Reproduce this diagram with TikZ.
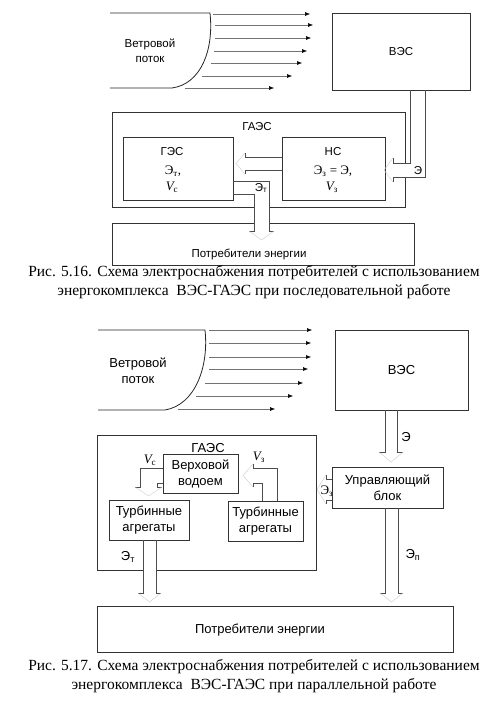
\documentclass[tikz,border=0pt]{standalone}
\usepackage{fontspec}
\setmainfont{Liberation Serif}
\setsansfont{Liberation Sans}
\usetikzlibrary{arrows.meta}

\begin{document}
\begin{tikzpicture}[x=1pt,y=-1pt,
  blk/.style={draw=black!80,line width=0.75pt,rectangle,inner sep=1pt,align=center,
    font=\sffamily\fontsize{11.5}{15}\selectfont},
  blkb/.style={blk,font=\sffamily\fontsize{13}{16}\selectfont},
  lbl/.style={inner sep=0pt,font=\sffamily\fontsize{11.5}{15}\selectfont},
  lblb/.style={inner sep=0pt,font=\sffamily\fontsize{13}{16}\selectfont},
  sym/.style={inner sep=0pt,font=\rmfamily\fontsize{13}{15}\selectfont},
  edge/.style={draw=black!85,line width=0.8pt},
  wind/.style={draw=black!55,line width=0.5pt,-{Latex[length=5pt,width=4pt,color=black]}},
  pipe/.style={draw=black!70,line width=0.55pt},
  mask/.style={fill=white,draw=none},
  tip/.style={draw=black!20,line width=0.4pt},
  capt/.style={inner sep=0pt,align=center,font=\rmfamily\fontsize{15.5}{19}\selectfont}]
  \path[fill=white,use as bounding box] (0,0) rectangle (499,701);

  % --- Fig. 5.16 ---
  \draw[edge] (110,13) -- (210,13) .. controls (214,50) and (201,84) .. (172,88) -- (110,88);
  \node[lbl,align=center] (wind1) at (150,51) {Ветровой\\поток};
  \foreach \s/\e/\y [count=\i] in {213/310/14,215/313/25,215/311/38,214/307/51,211/302/63,202/292/76,185/274/88} {
    \coordinate (wa\i) at (\s,\y);
    \coordinate (wb\i) at (\e,\y);
    \draw[wind] (wa\i) -- (wb\i);
  }
  \node[blk,minimum width=138pt,minimum height=77pt] (ves1) at (401,51.5) {ВЭС};
  \node[blk,minimum width=293pt,minimum height=95pt] (gaes1) at (258.5,159.5) {};
  \node[lbl] (gaes1t) at (257,127) {ГАЭС};
  \node[blk,minimum width=110pt,minimum height=63pt] (ges) at (178,168.5) {};
  \node[lbl] (gest) at (172,152) {ГЭС};
  \node[sym] (gesa) at (173,171) {Э\textsubscript{т},};
  \node[sym] (gesb) at (172,187) {\itshape V\textsubscript{\upshape с}};
  \node[blk,minimum width=103pt,minimum height=63pt] (ns) at (333.5,168.5) {};
  \node[lbl] (nst) at (333,152) {НС};
  \node[sym] (nsa) at (333,171) {Э\textsubscript{з} = Э,};
  \node[sym] (nsb) at (332,187) {\itshape V\textsubscript{\upshape з}};
  \node[blk,minimum width=302pt,minimum height=42pt] (cons1) at (263,244) {};
  \node[lbl] (cons1t) at (249,254) {Потребители энергии};

  % pipe NS -> GES
  \path[mask] (ns.west |- 0,157) rectangle (245,170);
  \draw[pipe] (ns.west |- 0,157) -- (245,157) -- (245,153);
  \draw[pipe] (ns.west |- 0,170) -- (245,170) -- (245,174);
  \draw[tip] (245,153) -- (236,163.5) -- (245,174);
  % pipe GES -> consumers
  \path[mask] (234,181) -- (269,181) -- (269,231) -- (254,231) -- (254,194) -- (234,194) -- cycle;
  \draw[pipe] (ges.east |- 0,181) -- (269,181) -- (269,231) -- (274,231);
  \draw[pipe] (ges.east |- 0,194) -- (254,194) -- (254,231) -- (249,231);
  \draw[tip] (249,231) -- (261.5,240) -- (274,231);
  \node[lbl] (et1) at (261,188) {Э\textsubscript{т}};
  % pipe VES -> GAES
  \path[mask] (410,91) -- (410,163) -- (393,163) -- (393,177) -- (425,177) -- (425,91) -- cycle;
  \draw[pipe] (410,0 |- ves1.south) -- (410,163) -- (393,163) -- (393,158);
  \draw[pipe] (425,0 |- ves1.south) -- (425,177) -- (393,177) -- (393,182);
  \draw[tip] (393,158) -- (384,170) -- (393,182);
  \node[lbl] (e1) at (418,171) {Э};

  \node[capt] (cap1) at (254,282.5) {Рис. 5.16. Схема электроснабжения потребителей с использованием\\
    энергокомплекса\ \ ВЭС-ГАЭС при последовательной работе};

  % --- Fig. 5.17 ---
  \draw[edge] (98,330) -- (205,330) .. controls (209,367) and (195,405) .. (165,410) -- (98,410);
  \node[lblb,align=center] (wind2) at (138,371) {Ветровой\\поток};
  \foreach \s/\e/\y [count=\i] in {209/312/330,209/311/343,209/311/357,209/308/369,205/303/383,196/293/396,178/275/409} {
    \coordinate (wc\i) at (\s,\y);
    \coordinate (wd\i) at (\e,\y);
    \draw[wind] (wc\i) -- (wd\i);
  }
  \node[blkb,minimum width=133pt,minimum height=80pt] (ves2) at (401.5,370) {ВЭС};
  \node[blkb,minimum width=219pt,minimum height=135pt] (gaes2) at (206.5,502.5) {};
  \node[lblb] (gaes2t) at (208,448) {ГАЭС};
  \node[blkb,minimum width=75pt,minimum height=39pt] (res) at (200.5,473.5) {Верховой\\водоем};
  \node[blkb,minimum width=80pt,minimum height=40pt] (turbl) at (149,520) {Турбинные\\агрегаты};
  \node[blkb,minimum width=75pt,minimum height=40pt] (turbr) at (265.5,521) {Турбинные\\агрегаты};
  \node[blkb,minimum width=111pt,minimum height=41pt] (ctrl) at (387.5,487.5) {Управляющий\\блок};
  \node[blkb,minimum width=356pt,minimum height=46pt] (cons2) at (275,629.5) {};
  \node[lblb] (cons2t) at (260,630) {Потребители энергии};

  % reservoir -> left turbines
  \draw[pipe] (res.west |- 0,468) -- (140,468) -- (140,487) -- (135,487);
  \draw[pipe] (res.west |- 0,483) -- (157,483) -- (157,487) -- (162,487);
  \draw[tip] (135,487) -- (148.5,496) -- (162,487);
  \node[sym] (vc) at (150,460) {\itshape V\textsubscript{\upshape с}};
  % right turbines -> reservoir
  \draw[pipe] (277,0 |- turbr.north) -- (277,468) -- (253,468) -- (253,464);
  \draw[pipe] (262,0 |- turbr.north) -- (262,483) -- (253,483) -- (253,487);
  \draw[tip] (253,464) -- (243,475.5) -- (253,487);
  \node[sym] (vz) at (259,457) {\itshape V\textsubscript{\upshape з}};
  % VES -> control block
  \draw[pipe] (385,0 |- ves2.south) -- (385,452) -- (379,452);
  \draw[pipe] (397,0 |- ves2.south) -- (397,452) -- (403,452);
  \draw[tip] (379,452) -- (391,462) -- (403,452);
  \node[lblb] (e2) at (406,437) {Э};
  % control block -> GAES
  \draw[pipe] (ctrl.west |- 0,479) -- (326,479) -- (326,475);
  \draw[pipe] (ctrl.west |- 0,500) -- (326,500) -- (326,504);
  \draw[tip] (326,475) -- (317,489.5) -- (326,504);
  \node[sym] (ez) at (327,491) {Э\textsubscript{з}};
  % left turbines -> consumers
  \path[mask] (143,541) rectangle (156,593);
  \draw[pipe] (143,0 |- turbl.south) -- (143,593) -- (138,593);
  \draw[pipe] (156,0 |- turbl.south) -- (156,593) -- (161,593);
  \draw[tip] (138,593) -- (149.5,602) -- (161,593);
  \node[lblb] (et2) at (128,557) {Э\textsubscript{т}};
  % control block -> consumers
  \draw[pipe] (385,0 |- ctrl.south) -- (385,593) -- (380,593);
  \draw[pipe] (398,0 |- ctrl.south) -- (398,593) -- (403,593);
  \draw[tip] (380,593) -- (391.5,602) -- (403,593);
  \node[lblb] (ep) at (413,555) {Э\textsubscript{п}};

  \node[capt] (cap2) at (254,676.5) {Рис. 5.17. Схема электроснабжения потребителей с использованием\\
    энергокомплекса\ \ ВЭС-ГАЭС при параллельной работе};
\end{tikzpicture}
\end{document}
